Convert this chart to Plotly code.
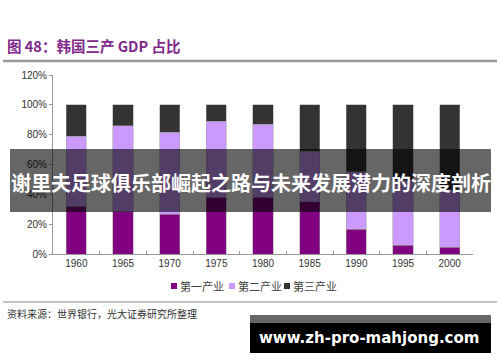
import plotly.graph_objects as go

years = ["1960", "1965", "1970", "1975", "1980", "1985", "1990", "1995", "2000"]
primary = [32, 28.5, 26.5, 38, 38, 35, 16.5, 6, 4.5]
secondary = [47, 57.5, 55, 51, 49, 34, 38.5, 43.5, 38.5]
tertiary = [21, 14, 18.5, 11, 13, 31, 45, 50.5, 57]
series_names = ["第一产业", "第二产业", "第三产业"]
colors = ["#800080", "#cc99ff", "#333333"]

W, H = 500, 362
L, R, T, B = 53, 473, 75, 254

def px(x):
    return (x - L) / (R - L)

def py(y):
    return (B - y) / (B - T)

fig = go.Figure()
for name, vals, c in zip(series_names, [primary, secondary, tertiary], colors):
    fig.add_trace(go.Bar(x=years, y=vals, name=name, marker=dict(color=c, line=dict(color="#999999", width=0.5))))

fig.update_layout(
    barmode="stack",
    bargap=0.57,
    width=W, height=H,
    margin=dict(l=L, r=W - R, t=T, b=H - B, pad=0, autoexpand=False),
    plot_bgcolor="white", paper_bgcolor="white",
    font=dict(family="Arial, Liberation Sans, Noto Sans CJK SC", size=10, color="#333333"),
    xaxis=dict(showline=True, linecolor="#999999", linewidth=1, ticks="inside", ticklen=3,
               tickcolor="#999999", tickson="boundaries", showgrid=False,
               tickfont=dict(size=10, color="#333333")),
    yaxis=dict(range=[0, 120], dtick=20, ticksuffix="%", showline=True, linecolor="#999999",
               linewidth=1, ticks="outside", ticklen=3, tickcolor="#999999", showgrid=False,
               zeroline=False, tickfont=dict(size=10, color="#333333")),
    showlegend=False,
)

shapes = [
    dict(type="line", xref="paper", yref="paper", x0=px(3), x1=px(497), y0=py(61), y1=py(61),
         line=dict(color="#999999", width=2.5)),
    dict(type="line", xref="paper", yref="paper", x0=px(3), x1=px(497), y0=py(302), y1=py(302),
         line=dict(color="#888888", width=1.2)),
]

annotations = []
# manual legend
leg_x = [171, 229, 284]
for name, c, lx in zip(series_names, colors, leg_x):
    shapes.append(dict(type="rect", xref="paper", yref="paper", x0=px(lx), x1=px(lx + 6),
                       y0=py(289), y1=py(283), fillcolor=c, line=dict(width=0)))
    annotations.append(dict(text=name, xref="paper", yref="paper", x=px(lx + 7), y=py(286),
                            xanchor="left", yanchor="middle", showarrow=False,
                            font=dict(size=11, color="#444444", family="Noto Sans CJK SC")))

shapes += [
    dict(type="rect", xref="paper", yref="paper", x0=px(10), x1=px(491), y0=py(212), y1=py(149),
         fillcolor="rgba(0,0,0,0.6)", line=dict(width=0), layer="above"),
    dict(type="rect", xref="paper", yref="paper", x0=px(250), x1=px(491), y0=py(323), y1=py(315),
         fillcolor="#666666", line=dict(width=0), layer="above"),
    dict(type="rect", xref="paper", yref="paper", x0=px(250), x1=px(491), y0=py(353), y1=py(323),
         fillcolor="#000000", line=dict(width=0), layer="above"),
]
fig.update_layout(shapes=shapes)

annotations += [
    dict(text="<b>图 48：韩国三产 GDP 占比</b>", xref="paper", yref="paper", x=px(5), y=py(46),
         xanchor="left", yanchor="middle", showarrow=False,
         font=dict(size=14.5, color="#7f2a8a", family="Noto Sans CJK SC")),
    dict(text="资料来源：世界银行，光大证券研究所整理", xref="paper", yref="paper", x=px(5), y=py(313),
         xanchor="left", yanchor="middle", showarrow=False,
         font=dict(size=10, color="#333333", family="Noto Sans CJK SC")),
    dict(text="<b>谢里夫足球俱乐部崛起之路与未来发展潜力的深度剖析</b>", xref="paper", yref="paper",
         x=px(250.5), y=py(182), xanchor="center", yanchor="middle", showarrow=False,
         font=dict(size=20, color="white", family="Noto Sans CJK SC")),
    dict(text="<b>www.zh-pro-mahjong.com</b>", xref="paper", yref="paper",
         x=px(369), y=py(338), xanchor="center", yanchor="middle", showarrow=False,
         font=dict(size=15, color="white", family="DejaVu Sans")),
]
fig.update_layout(annotations=annotations)

fig.write_html("out.html", config={"displayModeBar": False},
               post_script="document.body.style.margin='0';document.body.style.overflow='hidden';")
